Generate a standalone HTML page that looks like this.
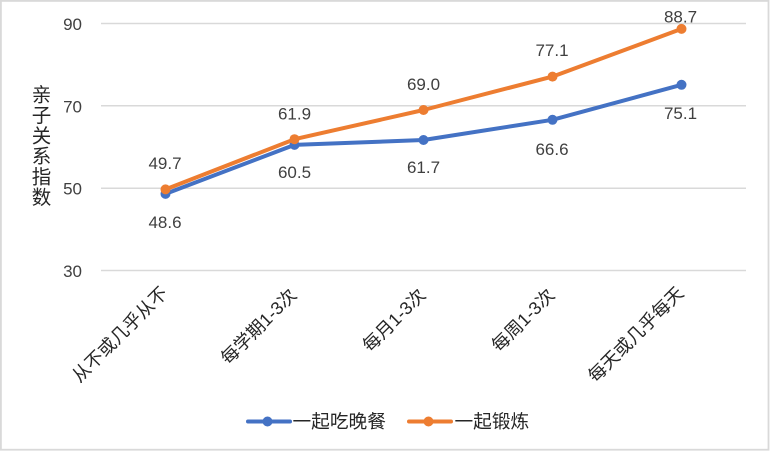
<!DOCTYPE html>
<html>
<head>
<meta charset="utf-8">
<style>
  html,body{margin:0;padding:0;background:#fff;}
  svg{display:block;}
  .num{font-family:"Liberation Sans","Noto Sans CJK SC",sans-serif;font-size:17px;fill:#404040;}
  .cjk{font-family:"Liberation Sans","Noto Sans CJK SC",sans-serif;fill:#262626;}
</style>
</head>
<body>
<svg width="770" height="451" viewBox="0 0 770 451" xmlns="http://www.w3.org/2000/svg">
  <rect x="0" y="0" width="770" height="451" fill="#fff"/>
  <rect x="0.9" y="0.9" width="767.6" height="448.8" fill="none" stroke="#d9d9d9" stroke-width="1.8"/>

  <!-- gridlines -->
  <g stroke="#d9d9d9" stroke-width="1.5">
    <line x1="101" y1="23.5" x2="746" y2="23.5"/>
    <line x1="101" y1="105.8" x2="746" y2="105.8"/>
    <line x1="101" y1="188.2" x2="746" y2="188.2"/>
    <line x1="101" y1="270.5" x2="746" y2="270.5"/>
  </g>

  <!-- y tick labels -->
  <g class="num" text-anchor="end">
    <text x="82" y="30">90</text>
    <text x="82" y="112.3">70</text>
    <text x="82" y="194.7">50</text>
    <text x="82" y="277">30</text>
  </g>

  <!-- y axis title -->
  <g class="cjk" font-size="19.5" text-anchor="middle" dominant-baseline="central">
    <text x="41.5" y="95.5">亲</text>
    <text x="41.5" y="116">子</text>
    <text x="41.5" y="136.5">关</text>
    <text x="41.5" y="157">系</text>
    <text x="41.5" y="177.5">指</text>
    <text x="41.5" y="198">数</text>
  </g>

  <!-- category labels -->
  <g class="cjk" font-size="18" text-anchor="end" dominant-baseline="central">
    <text transform="translate(164.5,290) rotate(-45)">从不或几乎从不</text>
    <text transform="translate(293.5,292) rotate(-45)">每学期1-3次</text>
    <text transform="translate(422.5,292) rotate(-45)">每月1-3次</text>
    <text transform="translate(551.5,292) rotate(-45)">每周1-3次</text>
    <text transform="translate(680.5,290) rotate(-45)">每天或几乎每天</text>
  </g>

  <!-- blue series -->
  <polyline fill="none" stroke="#4472C4" stroke-width="4" stroke-linejoin="round" stroke-linecap="round"
    points="165.5,193.9 294.5,144.9 423.5,140.0 552.5,119.8 681.5,84.8"/>
  <g fill="#4472C4">
    <circle cx="165.5" cy="193.9" r="5"/>
    <circle cx="294.5" cy="144.9" r="5"/>
    <circle cx="423.5" cy="140.0" r="5"/>
    <circle cx="552.5" cy="119.8" r="5"/>
    <circle cx="681.5" cy="84.8" r="5"/>
  </g>

  <!-- orange series -->
  <polyline fill="none" stroke="#ED7D31" stroke-width="4" stroke-linejoin="round" stroke-linecap="round"
    points="165.5,189.4 294.5,139.2 423.5,110.0 552.5,76.6 681.5,28.9"/>
  <g fill="#ED7D31">
    <circle cx="165.5" cy="189.4" r="5"/>
    <circle cx="294.5" cy="139.2" r="5"/>
    <circle cx="423.5" cy="110.0" r="5"/>
    <circle cx="552.5" cy="76.6" r="5"/>
    <circle cx="681.5" cy="28.9" r="5"/>
  </g>

  <!-- data labels -->
  <g class="num" text-anchor="middle">
    <text x="165" y="169">49.7</text>
    <text x="294.5" y="119.5">61.9</text>
    <text x="423.5" y="90">69.0</text>
    <text x="552" y="56">77.1</text>
    <text x="680.5" y="22.5">88.7</text>

    <text x="165" y="228">48.6</text>
    <text x="294.5" y="178">60.5</text>
    <text x="423.5" y="173">61.7</text>
    <text x="552" y="155">66.6</text>
    <text x="680.5" y="119">75.1</text>
  </g>

  <!-- legend -->
  <line x1="248" y1="421.5" x2="290" y2="421.5" stroke="#4472C4" stroke-width="4" stroke-linecap="round"/>
  <circle cx="267.5" cy="421.5" r="5" fill="#4472C4"/>
  <text class="cjk" x="292.5" y="421.5" font-size="18.7" dominant-baseline="central">一起吃晚餐</text>

  <line x1="409" y1="421.5" x2="451" y2="421.5" stroke="#ED7D31" stroke-width="4" stroke-linecap="round"/>
  <circle cx="428.5" cy="421.5" r="5" fill="#ED7D31"/>
  <text class="cjk" x="454.5" y="421.5" font-size="18.7" dominant-baseline="central">一起锻炼</text>
</svg>
</body>
</html>
